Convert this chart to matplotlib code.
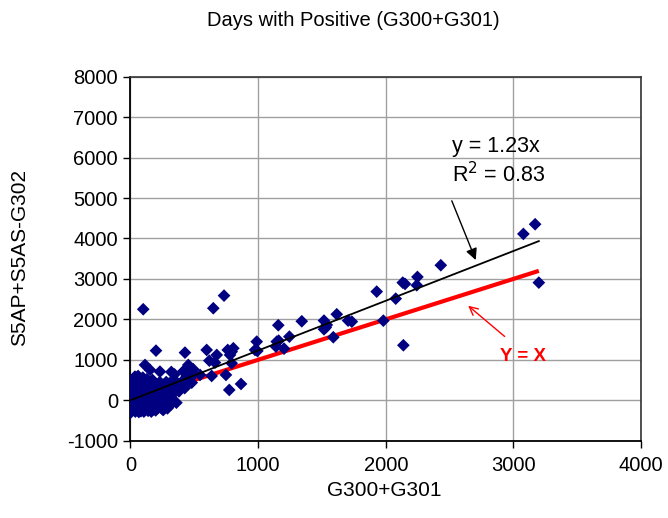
import matplotlib
matplotlib.use("Agg")
import matplotlib.pyplot as plt

plt.rcParams['font.family'] = ['Liberation Sans', 'DejaVu Sans']
plt.rcParams['axes.unicode_minus'] = False

title = "Days with Positive (G300+G301)"
x_label = "G300+G301"
y_label = "S5AP+S5AS-G302"
x_ticks = [0, 1000, 2000, 3000, 4000]
y_ticks = [-1000, 0, 1000, 2000, 3000, 4000, 5000, 6000, 7000, 8000]
slope = 1.23

# scattered points (outside the dense cluster)
outer_x = [3078, 3170, 3199, 2431, 2248, 2243, 2133, 2151, 2078, 1981, 2138, 1929,
           733, 649, 1158, 1342, 1516, 1616, 1734, 1538, 1516, 1589, 1245, 1161,
           1140, 1203, 989, 994, 976, 597, 762, 793, 806, 780, 676, 618, 662, 793,
           748, 636, 545, 774, 866, 100, 200, 427, 453, 114, 153, 231, 492, 480,
           1530, 1705, 1146]
outer_y = [4112, 4352, 2908, 3338, 3049, 2843, 2908, 2876, 2512, 1968, 1360, 2686,
           2587, 2275, 1855, 1953, 1969, 2126, 1944, 1862, 1755, 1558, 1573, 1474,
           1326, 1276, 1449, 1219, 1244, 1244, 1244, 1202, 1286, 1120, 1120, 979, 930, 915,
           626, 601, 626, 255, 403, 2250, 1227, 1178, 873, 873, 750, 708, 766, 435,
           1800, 1969, 1449]

# dense cluster near the origin
cluster_x = [5, 8, 10, 12, 15, 18, 20, 22, 25, 28, 30, 33, 35, 38, 40, 42, 45, 48, 50, 52,
             55, 58, 60, 62, 65, 68, 70, 72, 75, 78, 80, 82, 85, 88, 90, 92, 95, 98, 100, 102,
             105, 108, 110, 112, 115, 118, 120, 122, 125, 128, 130, 133, 135, 138, 140, 143,
             145, 148, 150, 153, 155, 158, 160, 163, 165, 168, 170, 173, 175, 178, 180, 183,
             185, 188, 190, 193, 195, 198, 200, 205, 210, 215, 220, 225, 230, 235, 240, 245,
             250, 255, 260, 265, 270, 275, 280, 285, 290, 295, 300, 305, 310, 318, 325, 332,
             340, 350, 360, 370, 380, 395, 410, 425, 440, 455, 470, 490, 3, 6, 14, 24, 36, 47,
             66, 84, 97, 257, 320, 415, 345]
cluster_y = [-150, 50, -250, 200, -50, 350, 100, -200, 0, 450, -100, 250, 584, -280, 150, -50,
             380, -180, 50, 280, -250, 120, 600, -120, 20, 330, -220, 200, -60, 480, 80, -270,
             260, -150, 140, 400, -30, -200, 300, 60, -280, 180, -100, 420, 20, -230, 250, -50,
             110, 520, -180, 350, 0, -260, 200, 80, -120, 450, 300, -200, 150, -40, 380, -280,
             60, 250, -150, 500, 100, -60, 320, -230, 180, 20, 420, -120, 260, -250, 120, -50,
             350, 200, -180, 80, 450, -100, 280, 150, -220, 20, 380, 230, -80, 100, 450, 300,
             -200, 180, 50, 420, 250, -100, 350, 150, 500, 280, -60, 420, 220, 350, 480, 300,
             600, 420, 550, 650, -300, 420, 480, -150, 300, 560, -290, 100, 560, -240, 700, 720, 640]

xs = outer_x + cluster_x
ys = outer_y + cluster_y

FS_TICK = 14.5
FS_TITLE = 14.5
FS_AXIS = 15

fig = plt.figure(figsize=(6.68, 5.18), dpi=100)
ax = fig.add_axes([0.1953, 0.1492, 0.7644, 0.7028])

xmax = max(xs)
ax.plot([0, xmax], [0, xmax], color='#ff0000', lw=3, zorder=2, solid_capstyle='butt')
ax.scatter(xs, ys, marker='D', s=42, color='#000080', edgecolors='none', zorder=3)
ax.plot([0, xmax], [0, slope * xmax], color='black', lw=1.3, zorder=4)

ax.set_xlim(0, 4000)
ax.set_ylim(-1000, 8000)
ax.set_xticks(x_ticks)
ax.set_yticks(y_ticks)
ax.grid(True, color='#a0a0a0', lw=1, zorder=0)
ax.set_axisbelow(True)
ax.tick_params(direction='out', length=5, width=1, labelsize=FS_TICK, colors='black')
ax.tick_params(axis='x', pad=6)
ax.tick_params(axis='y', pad=4)
for s in ['left', 'bottom']:
    ax.spines[s].set_color('black')
    ax.spines[s].set_linewidth(1.3)
for s in ['top', 'right']:
    ax.spines[s].set_color('#333333')
    ax.spines[s].set_linewidth(1.2)

ax.text(2517, 6271, "y = 1.23x", fontsize=15.5, ha='left', va='center')
ax.text(2517, 5571, "R$^2$ = 0.83", fontsize=15.5, ha='left', va='center')
ax.annotate("", xy=(2713, 3403), xytext=(2509, 4995),
            arrowprops=dict(arrowstyle='-|>', color='black', lw=1, mutation_scale=17))
ax.annotate("", xy=(2629, 2381), xytext=(2948, 1533),
            arrowprops=dict(arrowstyle='->', color='#ff0000', lw=1, mutation_scale=15))
ax.text(3075, 1071, "Y = X", fontsize=13.5, color='#ff0000', fontweight='bold',
        ha='center', va='center')

fig.text(353 / 668, 1 - 21 / 518, title, fontsize=FS_TITLE, ha='center', va='center')
fig.text(384 / 668, 1 - 491 / 518, x_label, fontsize=FS_AXIS, ha='center', va='center')
fig.text(20 / 668, 1 - 258 / 518, y_label, fontsize=FS_AXIS, ha='center', va='center',
         rotation=90)

fig.savefig("out.png", dpi=100)
